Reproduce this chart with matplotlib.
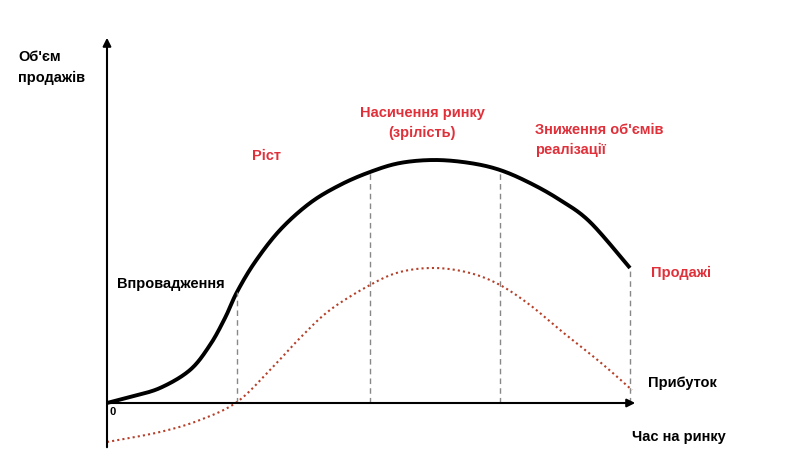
import matplotlib
matplotlib.use("Agg")
import matplotlib.pyplot as plt
import numpy as np

# data (time units, volume units)
sales_t = [0, 23, 53, 83, 103, 118, 130, 148, 173, 203, 233, 263, 293, 328, 363, 393, 423, 453, 483, 523]
sales_v = [0, 6, 15, 33, 58, 85, 111, 141, 173, 200, 218, 231, 240, 243, 240, 233, 220, 203, 181, 135]
profit_t = [0, 53, 93, 130, 163, 193, 223, 263, 293, 328, 363, 393, 423, 453, 493, 525]
profit_v = [-39, -29, -17, 1, 33, 65, 93, 118, 131, 135, 130, 118, 98, 73, 41, 13]
stage_t = [130, 263, 393, 523]
stage_top = [111, 231, 233, 135]

plt.rcParams['font.family'] = ['Liberation Sans', 'DejaVu Sans']
fig = plt.figure(figsize=(7.99, 4.69), dpi=100)
ax = fig.add_axes([0, 0, 1, 1])
ax.set_xlim(-107, 692)
ax.set_ylim(-66, 403)
ax.axis('off')

def smooth(t, v):
    pts = np.array(list(zip(t, v)), float)
    out = []
    P = np.vstack([pts[0], pts, pts[-1]])
    for i in range(1, len(P) - 2):
        p0, p1, p2, p3 = P[i-1], P[i], P[i+1], P[i+2]
        for s in np.linspace(0, 1, 30, endpoint=False):
            out.append(0.5*((2*p1) + (-p0+p2)*s + (2*p0-5*p1+4*p2-p3)*s**2 + (-p0+3*p1-3*p2+p3)*s**3))
    out.append(P[-2])
    out = np.array(out)
    return out[:, 0], out[:, 1]

red = '#e0303a'
ax.annotate('', xy=(531, 0), xytext=(0, 0),
            arrowprops=dict(arrowstyle='-|>', color='black', lw=1.5, mutation_scale=12))
ax.annotate('', xy=(0, 368), xytext=(0, -47),
            arrowprops=dict(arrowstyle='-|>', color='black', lw=1.5, mutation_scale=12))

x, y = smooth(sales_t, sales_v)
ax.plot(x, y, color='black', lw=2.8, solid_capstyle='butt')
x, y = smooth(profit_t, profit_v)
ax.plot(x, y, color='#b5402a', lw=1.5, ls=(0, (1, 1.5)))
for t, top in zip(stage_t, stage_top):
    ax.plot([t, t], [0, top], color='#888888', lw=1, ls=(0, (4, 3)))

kw = dict(fontsize=10.5, fontweight='bold')
ax.text(-89, 353, "Об'єм\nпродажів", ha='left', va='top', linespacing=1.6, **kw)
ax.text(3, -9, '0', ha='left', va='center', fontsize=8, fontweight='bold')
ax.text(10, 119, 'Впровадження', ha='left', va='center', **kw)
ax.text(145, 247, 'Ріст', ha='left', va='center', color=red, **kw)
ax.text(315, 280, 'Насичення ринку\n(зрілість)', ha='center', va='center', color=red, linespacing=1.6, **kw)
ax.text(428, 263, "Зниження об'ємів\nреалізації", ha='left', va='center', color=red, linespacing=1.6, **kw)
ax.text(544, 130, 'Продажі', ha='left', va='center', color=red, **kw)
ax.text(541, 20, 'Прибуток', ha='left', va='center', **kw)
ax.text(525, -34, 'Час на ринку', ha='left', va='center', **kw)

fig.savefig('out.png', dpi=100, facecolor='white')
